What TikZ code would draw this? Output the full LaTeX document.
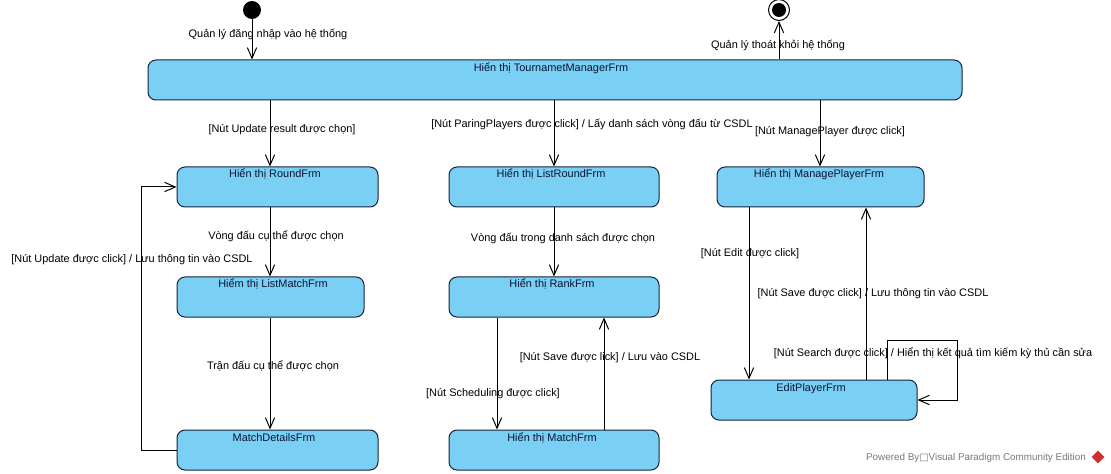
\documentclass[tikz,border=0pt]{standalone}
\usepackage{fontspec}
\setmainfont{Liberation Sans}
\newfontfamily\symfont{DejaVu Sans}
\usetikzlibrary{arrows.meta,fit,shapes.geometric}
\definecolor{stfill}{RGB}{122,207,245}
\definecolor{stdraw}{RGB}{25,35,55}
\definecolor{sttext}{RGB}{10,20,50}
\definecolor{wmgray}{RGB}{120,120,120}
\definecolor{logored}{RGB}{205,50,45}
\newcommand\fs{\fontsize{8.2pt}{10pt}\selectfont}
\begin{document}
\begin{tikzpicture}[x=0.75pt,y=-0.75pt,line width=0.75pt,
  state/.style={draw=stdraw,fill=stfill,rounded corners=6pt,inner sep=0pt,line width=0.75pt},
  stitle/.style={font=\fs,text=sttext,inner sep=0pt},
  lab/.style={font=\fs,text=black,inner sep=0pt},
  tr/.style={draw=black,line width=0.75pt,-{Straight Barb[length=8pt,width=7pt]}}]
\useasboundingbox (0,0) rectangle (1111,474);

% pseudo states
\node[circle,fill=black,minimum size=13.5pt,inner sep=0pt] (init) at (252,10) {};
\node[circle,draw=black,line width=0.75pt,minimum size=15.75pt,inner sep=0pt] (final) at (779,10) {};
\node[circle,fill=black,minimum size=10.5pt,inner sep=0pt] (finalin) at (final) {};

% states
\node[state,fit={(148,60)(962,100)}] (top) {};
\node[state,fit={(177,167)(378,207)}] (round) {};
\node[state,fit={(177,277)(364,317)}] (listmatch) {};
\node[state,fit={(177,430)(378,470)}] (md) {};
\node[state,fit={(449,167)(659,207)}] (listround) {};
\node[state,fit={(449,277)(659,317)}] (rank) {};
\node[state,fit={(449,430)(659,470)}] (match) {};
\node[state,fit={(717,167)(924,207)}] (manage) {};
\node[state,fit={(711,380)(917,420)}] (edit) {};

% titles
\node[stitle] (topT) at (551,68) {Hiển thị TournametManagerFrm};
\node[stitle] (roundT) at (275,174) {Hiển thị RoundFrm};
\node[stitle] (listmatchT) at (273,284) {Hiểm thị ListMatchFrm};
\node[stitle] (mdT) at (274,438) {MatchDetailsFrm};
\node[stitle] (listroundT) at (551,174) {Hiển thị ListRoundFrm};
\node[stitle] (rankT) at (552,284) {Hiển thị RankFrm};
\node[stitle] (matchT) at (552,438) {Hiển thị MatchFrm};
\node[stitle] (manageT) at (819,174) {Hiển thị ManagePlayerFrm};
\node[stitle] (editT) at (811,389) {EditPlayerFrm};

% column coordinates
\coordinate (xa) at (270,0);
\coordinate (xb) at (554,0);
\coordinate (xc) at (820,0);
\coordinate (xd) at (497,0);
\coordinate (xe) at (604,0);
\coordinate (xf) at (749,0);
\coordinate (xg) at (866,0);
\coordinate (xh) at (887,0);
\coordinate (cl) at (957,340);

% transitions
\draw[tr] (init) -- (top.north -| init);
\draw[tr] (top.north -| final) -- (final);
\draw[tr] (top.south -| xa) -- (round.north -| xa);
\draw[tr] (round.south -| xa) -- (listmatch.north -| xa);
\draw[tr] (listmatch.south -| xa) -- (md.north -| xa);
\draw[tr] (md.west) -- ++(-35,0) |- (round.west);
\draw[tr] (top.south -| xb) -- (listround.north -| xb);
\draw[tr] (listround.south -| xb) -- (rank.north -| xb);
\draw[tr] (rank.south -| xd) -- (match.north -| xd);
\draw[tr] (match.north -| xe) -- (rank.south -| xe);
\draw[tr] (top.south -| xc) -- (manage.north -| xc);
\draw[tr] (manage.south -| xf) -- (edit.north -| xf);
\draw[tr] (edit.north -| xg) -- (manage.south -| xg);
\draw[tr] (edit.north -| xh) |- (cl) |- (edit.east);

% labels
\node[lab] (lInit) at (268,34) {Quản lý đăng nhập vào hệ thống};
\node[lab] (lFinal) at (778,45) {Quản lý thoát khỏi hệ thống};
\node[lab] (l1) at (282,130) {[Nút Update result được chọn]};
\node[lab] (l2) at (592,124) {[Nút ParingPlayers được click] / Lấy danh sách vòng đấu từ CSDL};
\node[lab] (l3) at (830,132) {[Nút ManagePlayer được click]};
\node[lab] (l4) at (276,236) {Vòng đấu cụ thể được chọn};
\node[lab] (l5) at (273,366) {Trận đấu cụ thể được chọn};
\node[lab] (l6) at (132,260) {[Nút Update được click] / Lưu thông tin vào CSDL};
\node[lab] (l7) at (563,238) {Vòng đấu trong danh sách được chọn};
\node[lab] (l8) at (493,394) {[Nút Scheduling được click]};
\node[lab] (l9) at (610,358) {[Nút Save được lick] / Lưu vào CSDL};
\node[lab] (l10) at (750,254) {[Nút Edit được click]};
\node[lab] (l11) at (873,294) {[Nút Save được click] / Lưu thông tin vào CSDL};
\node[lab] (l12) at (933,353) {[Nút Search được click] / Hiển thị kết quả tìm kiếm kỳ thủ cần sửa};

% watermark
\node[font=\fontsize{7.4pt}{9pt}\selectfont,text=wmgray,inner sep=0pt] (wm) at (976,458) {Powered By{\symfont □}Visual Paradigm Community Edition};
\node[diamond,fill=logored,minimum size=10pt,inner sep=0pt] (logo) at (1098,457) {};
\end{tikzpicture}
\end{document}
